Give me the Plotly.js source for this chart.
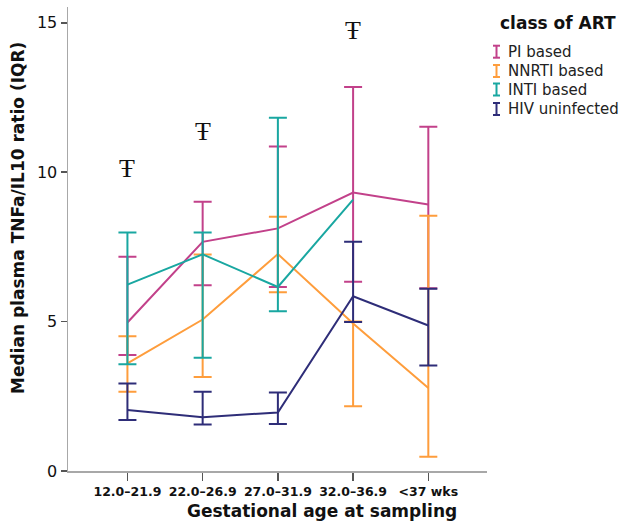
<!DOCTYPE html>
<html>
<head>
<meta charset="utf-8">
<script src="https://cdn.plot.ly/plotly-3.0.1.min.js"></script>
<style>
  html, body { margin: 0; padding: 0; background: #ffffff; }
  #chart { width: 630px; height: 529px; }
</style>
</head>
<body>
<div id="chart"></div>
<script>
// Gestational age groups at sampling
const ageGroups = ['12.0–21.9', '22.0–26.9', '27.0–31.9', '32.0–36.9', '<37 wks'];

// Median TNFa/IL10 ratio with interquartile range, by class of ART
const seriesNames = ['PI based', 'NNRTI based', 'INTI based', 'HIV uninfected'];

const piMedian = [4.97, 7.67, 8.12, 9.32, 8.92];
const piQ1     = [3.88, 6.22, 6.16, 6.33, 6.12];
const piQ3     = [7.17, 9.01, 10.86, 12.85, 11.52];

const nnrtiMedian = [3.60, 5.07, 7.26, 4.94, 2.78];
const nnrtiQ1     = [2.65, 3.15, 5.98, 2.17, 0.48];
const nnrtiQ3     = [4.51, 7.25, 8.51, 5.00, 8.54];

const intiMedian = [6.24, 7.25, 6.16, 9.08, null];
const intiQ1     = [3.57, 3.79, 5.35, null, null];
const intiQ3     = [7.98, 7.98, 11.82, null, null];

const hivMedian = [2.04, 1.80, 1.96, 5.85, 4.87];
const hivQ1     = [1.71, 1.56, 1.57, 4.99, 3.53];
const hivQ3     = [2.93, 2.65, 2.63, 7.67, 6.10];

// Groups marked with a significance symbol, and the height of the symbol
const markedGroups = ['12.0–21.9', '22.0–26.9', '32.0–36.9'];
const markHeights  = [10.13, 11.35, 14.75];
const markSymbol = 'Ŧ';

const colors = ['#c2418a', '#fe9d3c', '#19a7a1', '#2e2d78'];

// Plot area in pixels, used to place the hand-built legend and titles
const W = 630, H = 529;
const M = { l: 68, r: 143, t: 7, b: 58 };
const plotW = W - M.l - M.r, plotH = H - M.t - M.b;
const px = x => (x - M.l) / plotW;
const py = y => (H - M.b - y) / plotH;

function up(med, hi) { return med.map((m, i) => (m == null || hi[i] == null) ? NaN : hi[i] - m); }
function down(med, lo) { return med.map((m, i) => (m == null || lo[i] == null) ? NaN : m - lo[i]); }

function makeTrace(name, med, lo, hi, color) {
  return {
    type: 'scatter',
    mode: 'lines',
    name: name,
    x: ageGroups,
    y: med,
    line: { color: color, width: 2 },
    error_y: {
      type: 'data',
      symmetric: false,
      array: up(med, hi),
      arrayminus: down(med, lo),
      color: color,
      thickness: 2,
      width: 9
    },
    showlegend: false,
    hoverinfo: 'skip'
  };
}

const traces = [
  makeTrace(seriesNames[0], piMedian, piQ1, piQ3, colors[0]),
  makeTrace(seriesNames[1], nnrtiMedian, nnrtiQ1, nnrtiQ3, colors[1]),
  makeTrace(seriesNames[2], intiMedian, intiQ1, intiQ3, colors[2]),
  makeTrace(seriesNames[3], hivMedian, hivQ1, hivQ3, colors[3])
];

const annotations = [];
const shapes = [];

// Significance symbols above the groups
markedGroups.forEach((g, i) => {
  annotations.push({
    xref: 'x', yref: 'y', x: g, y: markHeights[i],
    text: markSymbol, showarrow: false,
    font: { family: 'Liberation Serif', size: 26, color: '#111' },
    xanchor: 'center', yanchor: 'middle'
  });
});

// Axis titles
annotations.push({
  xref: 'paper', yref: 'paper', x: px(322), y: py(511),
  text: 'Gestational age at sampling', showarrow: false,
  font: { family: 'DejaVu Sans', size: 17, color: '#111', weight: 'bold' },
  xanchor: 'center', yanchor: 'middle'
});
annotations.push({
  xref: 'paper', yref: 'paper', x: px(18), y: py(218),
  text: 'Median plasma TNFa/IL10 ratio (IQR)', showarrow: false, textangle: -90,
  font: { family: 'DejaVu Sans', size: 17, color: '#111', weight: 'bold' },
  xanchor: 'center', yanchor: 'middle'
});

// Legend: title, error-bar icons and labels
annotations.push({
  xref: 'paper', yref: 'paper', x: px(558), y: py(23),
  text: 'class of ART', showarrow: false,
  font: { family: 'DejaVu Sans', size: 17, color: '#111', weight: 'bold' },
  xanchor: 'center', yanchor: 'middle'
});
const rowY = [51.7, 71, 89.5, 109];
seriesNames.forEach((name, i) => {
  const cy = rowY[i];
  annotations.push({
    xref: 'paper', yref: 'paper', x: px(506), y: py(cy),
    text: name, showarrow: false,
    font: { family: 'DejaVu Sans', size: 15, color: '#222' },
    xanchor: 'left', yanchor: 'middle'
  });
  const c = colors[i];
  const xc = 496.5, half = 6, capW = 3.5;
  shapes.push({ type: 'line', xref: 'paper', yref: 'paper',
    x0: px(xc), x1: px(xc), y0: py(cy - half), y1: py(cy + half),
    line: { color: c, width: 2 } });
  shapes.push({ type: 'line', xref: 'paper', yref: 'paper',
    x0: px(xc - capW), x1: px(xc + capW), y0: py(cy - half), y1: py(cy - half),
    line: { color: c, width: 2 } });
  shapes.push({ type: 'line', xref: 'paper', yref: 'paper',
    x0: px(xc - capW), x1: px(xc + capW), y0: py(cy + half), y1: py(cy + half),
    line: { color: c, width: 2 } });
});

const layout = {
  width: W, height: H,
  margin: M,
  paper_bgcolor: '#ffffff',
  plot_bgcolor: '#ffffff',
  showlegend: false,
  xaxis: {
    type: 'category',
    range: [-0.79, 4.78],
    showgrid: false, zeroline: false,
    showline: true, linecolor: '#a8a8a8', linewidth: 1.5,
    ticks: 'outside', ticklen: 8, tickwidth: 1.5, tickcolor: '#555',
    tickfont: { family: 'DejaVu Sans', size: 12.5, color: '#111', weight: 'bold' }
  },
  yaxis: {
    range: [0, 15.53],
    tickvals: [0, 5, 10, 15],
    showgrid: false, zeroline: false,
    showline: true, linecolor: '#a8a8a8', linewidth: 1.5,
    ticks: 'outside', ticklen: 6, tickwidth: 1.5, tickcolor: '#555',
    tickfont: { family: 'DejaVu Sans', size: 16, color: '#111' }
  },
  annotations: annotations,
  shapes: shapes
};

Plotly.newPlot('chart', traces, layout, { staticPlot: true, displayModeBar: false });
</script>
</body>
</html>
